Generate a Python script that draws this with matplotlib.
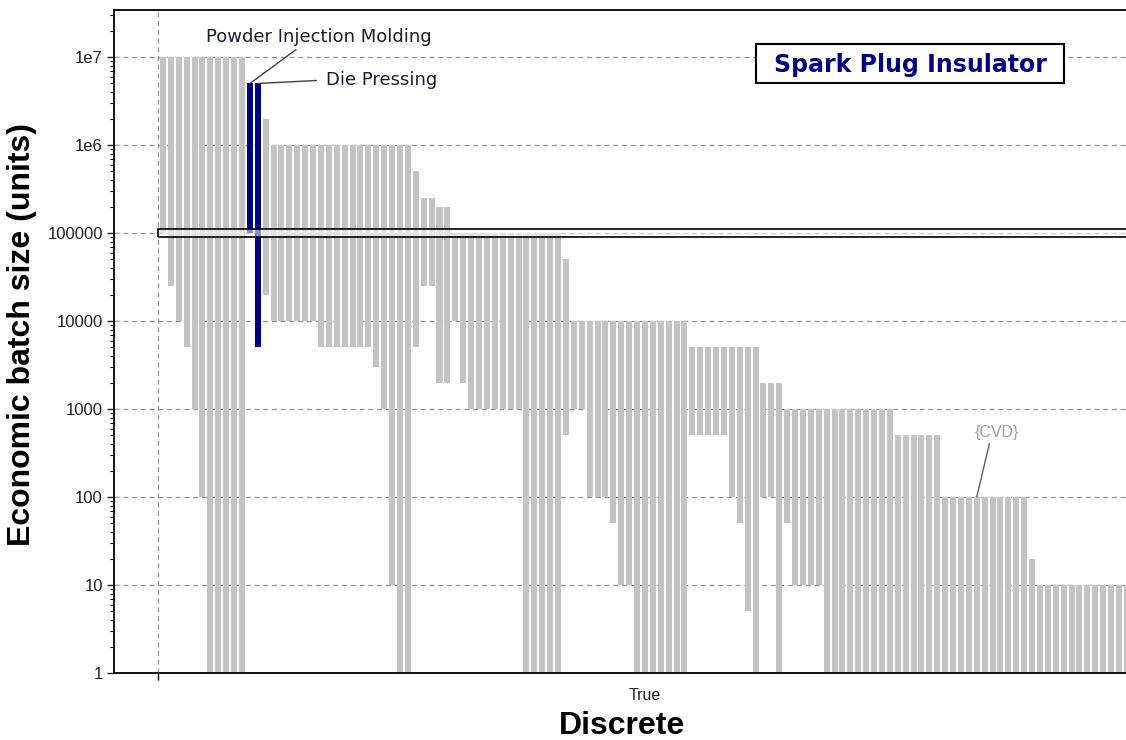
import numpy as np
import matplotlib
matplotlib.use('Agg')
import matplotlib.pyplot as plt
from matplotlib.patches import Rectangle
from matplotlib.ticker import FixedLocator, FixedFormatter, LogLocator, NullFormatter

# economic batch size ranges (units) per process, left to right
highs = ([1e7]*11 + [5e6, 5e6] + [2e6] + [1e6]*18 + [5e5] + [2.5e5]*2 + [2e5]*2
         + [1e5]*14 + [5e4] + [1e4]*15 + [5000]*9 + [2000]*3 + [1000]*14
         + [500]*6 + [100]*11 + [20] + [10]*12)
lows = ([1e5, 25000, 10000, 5000, 1000, 100] + [1]*5
        + [1e5, 5000]
        + [20000]
        + [10000]*6 + [5000]*7 + [3000, 1000, 10, 1, 1]
        + [5000] + [25000]*2 + [2000]*2
        + [10000, 2000] + [1000]*7 + [1]*5
        + [500] + [1000]*2 + [100]*3 + [50] + [10]*2 + [1]*7
        + [500]*5 + [100, 50, 5, 1]
        + [100]*2 + [1]
        + [50] + [10]*4 + [1]*39)

highlight = {11: 'Powder Injection Molding', 12: 'Die Pressing'}
cvd_index = 103
target_low = 90000
target_high = 111000
ytick_vals = [1, 10, 100, 1000, 10000, 100000, 1e6, 1e7]
ytick_text = ['1', '10', '100', '1000', '10000', '100000', '1e6', '1e7']

W, H = 1126, 740
fig = plt.figure(figsize=(W/100, H/100), dpi=100)
ax = fig.add_axes([114/W, 67/H, 1016/W, 663/H])

x = np.arange(len(highs))
lo = np.array(lows)
hi = np.array(highs)
colors = ['#000080' if i in highlight else '#c3c3c3' for i in x]
ax.bar(x, hi - lo, bottom=lo, width=0.76, color=colors, zorder=2)

ax.set_yscale('log')
ax.set_ylim(1, 10**7.534)
ax.set_xlim(-6.2, 122.4)

tick_x = -0.63
ax.yaxis.set_major_locator(FixedLocator(ytick_vals))
ax.yaxis.set_major_formatter(FixedFormatter(ytick_text))
ax.yaxis.set_minor_locator(LogLocator(base=10, subs=np.arange(2, 10)))
ax.yaxis.set_minor_formatter(NullFormatter())
ax.set_xticks([tick_x])
ax.set_xticklabels([''])
ax.tick_params(axis='y', which='major', length=5, width=1, pad=3, labelsize=12, colors='#202020')
ax.tick_params(axis='y', which='minor', length=3, width=0.8)
ax.tick_params(axis='x', length=5, width=1)
for lab in ax.get_yticklabels():
    lab.set_family('Liberation Sans')

ax.set_axisbelow(True)
ax.yaxis.grid(True, which='major', linestyle=(0, (4, 3)), color='#909090', lw=0.9)
ax.axvline(tick_x, linestyle=(0, (4, 3)), color='#909090', lw=0.9, zorder=1)

for s in ['left', 'bottom', 'top']:
    ax.spines[s].set_linewidth(1.3)
ax.spines['right'].set_visible(False)

# selected batch size band
ax.add_patch(Rectangle((tick_x, target_low), 130, target_high - target_low,
                       facecolor='white', alpha=0.55, edgecolor='none', zorder=3))
ax.add_patch(Rectangle((tick_x, target_low), 130, target_high - target_low,
                       facecolor='none', edgecolor='black', lw=1.2, zorder=4))

ax.set_ylabel('Economic batch size (units)', fontsize=23, fontweight='bold', family='Liberation Sans')
ax.yaxis.set_label_coords(-0.0756, 0.51)
fig.text(622/W, 1 - 726/H, 'Discrete', ha='center', va='center', fontsize=23,
         fontweight='bold', family='Liberation Sans')
fig.text(645/W, 1 - 696/H, 'True', ha='center', va='center', fontsize=11.5,
         family='Liberation Sans', color='#202020')

# annotations
ax.annotate('Powder Injection Molding', xy=(11, highs[11]), xycoords='data',
            xytext=(319, H - 37), textcoords='figure pixels', ha='center', va='center',
            fontsize=13, color='#1a1a33',
            arrowprops=dict(arrowstyle='-', color='#404040', lw=1, relpos=(0.42, 0),
                            shrinkA=1, shrinkB=0))
ax.annotate('Die Pressing', xy=(12, highs[12]), xycoords='data',
            xytext=(326, H - 80), textcoords='figure pixels', ha='left', va='center',
            fontsize=13, color='#1a1a33',
            arrowprops=dict(arrowstyle='-', color='#404040', lw=1, relpos=(0, 0.5),
                            shrinkA=5, shrinkB=0))
ax.annotate('{CVD}', xy=(cvd_index, highs[cvd_index]), xycoords='data',
            xytext=(997, H - 432), textcoords='figure pixels', ha='center', va='center',
            fontsize=11.5, color='#a0a0a0', family='Liberation Sans',
            arrowprops=dict(arrowstyle='-', color='#606060', lw=1, relpos=(0.35, 0),
                            shrinkA=1, shrinkB=0))

# title box
fig.add_artist(Rectangle((756/W, 1 - 83/H), 308/W, 39/H, transform=fig.transFigure,
                         facecolor='white', edgecolor='black', lw=1.5, zorder=5))
fig.text(910/W, 1 - 72/H, 'Spark Plug Insulator', ha='center', va='baseline', fontsize=17,
         fontweight='bold', color='#000080', zorder=6)

fig.savefig('out.png', dpi=100)
